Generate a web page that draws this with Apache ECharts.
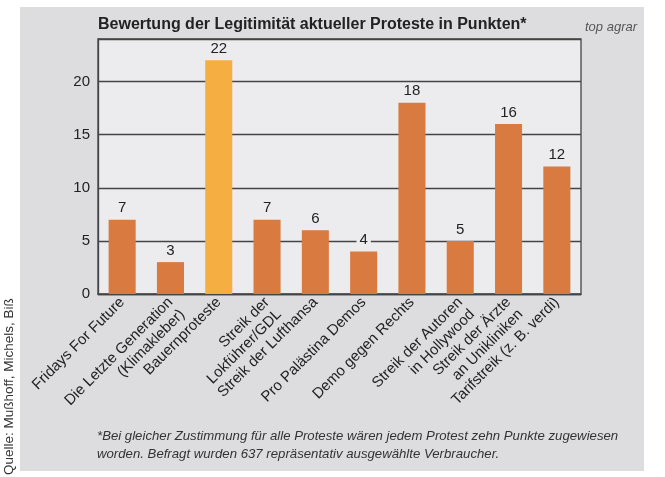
<!DOCTYPE html>
<html>
<head>
<meta charset="utf-8">
<script src="https://cdn.jsdelivr.net/npm/echarts@6/dist/echarts.min.js"></script>
<style>
html,body{margin:0;padding:0;background:#ffffff;}
#c{width:665px;height:477px;}
</style>
</head>
<body>
<div id="c"></div>
<script>
const categories = [
  'Fridays For Future',
  'Die Letzte Generation\n(Klimakleber)',
  'Bauernproteste',
  'Streik der\nLokführer/GDL',
  'Streik der Lufthansa',
  'Pro Palästina Demos',
  'Demo gegen Rechts',
  'Streik der Autoren\nin Hollywood',
  'Streik der Ärzte\nan Unikliniken',
  'Tarifstreik (z. B. verdi)'
];
const points = [7, 3, 22, 7, 6, 4, 18, 5, 16, 12];
const highlighted = ['Bauernproteste'];
const yTicks = {min: 0, max: 24, interval: 5};

const titleText = 'Bewertung der Legitimität aktueller Proteste in Punkten*';
const brandText = 'top agrar';
const sourceText = 'Quelle: Mußhoff, Michels, Biß';
const noteLines = [
  '*Bei gleicher Zustimmung für alle Proteste wären jedem Protest zehn Punkte zugewiesen',
  'worden. Befragt wurden 637 repräsentativ ausgewählte Verbraucher.'
];

const FONT = "'Liberation Sans', Arial, Helvetica, sans-serif";
const PLOT_BG = '#ececef';
const PANEL_BG = '#dddde0';
const BAR = '#d97a40';
const BAR_HI = '#f5ae42';

const chart = echarts.init(document.getElementById('c'), null, {renderer: 'canvas'});

chart.setOption({
  backgroundColor: '#ffffff',
  animation: false,
  graphic: [
    {type: 'rect', z: -10, shape: {x: 20, y: 7, width: 624, height: 464}, style: {fill: PANEL_BG}},
    {type: 'text', left: 98, top: 17, style: {text: titleText, font: "bold 16px " + FONT, fill: '#222'}},
    {type: 'text', left: 585, top: 21, style: {text: brandText, font: "italic 13px " + FONT, fill: '#555'}},
    {type: 'text', x: 9, y: 475, rotation: Math.PI / 2,
      style: {text: sourceText, font: "13.5px " + FONT, fill: '#333', align: 'left', verticalAlign: 'middle'}},
    {type: 'text', left: 97, top: 430, style: {text: noteLines[0], font: "italic 13.2px " + FONT, fill: '#333'}},
    {type: 'text', left: 97, top: 448, style: {text: noteLines[1], font: "italic 13.2px " + FONT, fill: '#333'}}
  ],
  grid: {
    left: 98, right: 84, top: 39, bottom: 183,
    show: true, backgroundColor: PLOT_BG, borderColor: '#444', borderWidth: 1.3,
    containLabel: false
  },
  xAxis: {
    type: 'category',
    data: categories,
    axisLine: {show: true, lineStyle: {color: '#444', width: 1.3}},
    axisTick: {show: false},
    axisLabel: {
      interval: 0, rotate: 45, margin: 6,
      color: '#222', fontFamily: FONT, fontSize: 15, lineHeight: 17,
      formatter: v => (v.indexOf('\n') >= 0 ? '\n' + v : v)
    }
  },
  yAxis: {
    type: 'value',
    min: yTicks.min, max: yTicks.max, interval: yTicks.interval,
    axisLine: {show: true, lineStyle: {color: '#444', width: 1.3}},
    axisTick: {show: false},
    splitLine: {show: true, lineStyle: {color: '#444', width: 1.3}},
    axisLabel: {showMaxLabel: false, color: '#222', fontFamily: FONT, fontSize: 15, margin: 8}
  },
  series: [{
    type: 'bar',
    data: points.map((v, i) => ({
      value: v,
      itemStyle: {color: highlighted.includes(categories[i]) ? BAR_HI : BAR}
    })),
    barCategoryGap: '44%',
    label: {
      show: true, position: 'top', distance: 4,
      color: '#222', fontFamily: FONT, fontSize: 15,
      backgroundColor: PLOT_BG, padding: [0, 3, 0, 3]
    }
  }]
});
</script>
</body>
</html>
